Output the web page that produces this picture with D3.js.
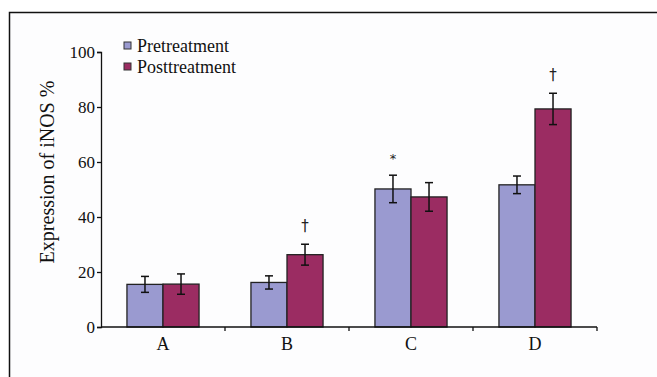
<!DOCTYPE html>
<html>
<head>
<meta charset="utf-8">
<script src="https://cdn.jsdelivr.net/npm/d3@7"></script>
<style>
	body { margin: 0; background: #fff; }
</style>
</head>
<body>
<div id="chart"></div>
<script>
	// Данные
	const groups = ["A", "B", "C", "D"]
	const series = ["Pretreatment", "Posttreatment"]
	const preValues = [15.5, 16.2, 50.2, 51.7]
	const postValues = [15.6, 26.3, 47.3, 79.3]
	const preErrors = [2.9, 2.4, 5, 3.2]
	const postErrors = [3.7, 3.8, 5.2, 5.7]
	const preMarks = ["", "", "*", ""]
	const postMarks = ["", "†", "", "†"]
	const yTicks = [0, 20, 40, 60, 80, 100]

	const colors = ["#9a9ad0", "#9b2c62"]
	const FONT = "'Liberation Serif', 'Times New Roman', serif"

	const W = 657, H = 377

	const svg = d3.select("#chart").append("svg")
		.attr("width", W)
		.attr("height", H)
		.style("font-family", FONT)

	// рамка
	svg.append("rect")
		.attr("x", 9.5).attr("y", 12.5)
		.attr("width", 700).attr("height", 400)
		.attr("fill", "#fdfdfe")
		.attr("stroke", "#111").attr("stroke-width", 1.5)

	const x = d3.scaleBand()
		.domain(groups)
		.range([101, 597])

	const xInner = d3.scaleBand()
		.domain(series)
		.range([0, x.bandwidth()])
		.paddingInner(0)
		.paddingOuter(0.72)

	const y = d3.scaleLinear()
		.domain([0, 100])
		.range([327, 52])

	const rows = groups.flatMap((g, i) => [
		{ g, s: series[0], v: preValues[i], e: preErrors[i], m: preMarks[i], c: colors[0] },
		{ g, s: series[1], v: postValues[i], e: postErrors[i], m: postMarks[i], c: colors[1] }
	])

	// столбцы
	svg.selectAll(".bar")
		.data(rows)
		.enter().append("rect")
		.attr("class", "bar")
		.attr("x", d => x(d.g) + xInner(d.s))
		.attr("y", d => y(d.v))
		.attr("width", xInner.bandwidth())
		.attr("height", d => y(0) - y(d.v))
		.attr("fill", d => d.c)
		.attr("stroke", "#222")
		.attr("stroke-width", 1.3)

	// планки погрешностей
	const err = svg.selectAll(".err")
		.data(rows)
		.enter().append("g")
		.attr("class", "err")
		.attr("transform", d => `translate(${x(d.g) + xInner(d.s) + xInner.bandwidth() / 2},0)`)
		.attr("stroke", "#111")
		.attr("stroke-width", 1.5)

	err.append("line")
		.attr("y1", d => y(d.v + d.e)).attr("y2", d => y(d.v - d.e))
	err.append("line")
		.attr("x1", -4).attr("x2", 4)
		.attr("y1", d => y(d.v + d.e)).attr("y2", d => y(d.v + d.e))
	err.append("line")
		.attr("x1", -4).attr("x2", 4)
		.attr("y1", d => y(d.v - d.e)).attr("y2", d => y(d.v - d.e))

	// значки значимости
	svg.selectAll(".mark")
		.data(rows.filter(d => d.m))
		.enter().append("text")
		.attr("class", "mark")
		.attr("x", d => x(d.g) + xInner(d.s) + xInner.bandwidth() / 2)
		.attr("y", d => y(d.v + d.e) - (d.m === "*" ? 12 : 13))
		.attr("text-anchor", "middle")
		.style("font-size", d => d.m === "*" ? "13px" : "15px")
		.style("font-family", "'DejaVu Sans', sans-serif")
		.style("fill", "#222")
		.text(d => d.m)

	// ось Y
	const yAxis = svg.append("g")
		.attr("transform", `translate(101,0)`)
		.call(d3.axisLeft(y).tickValues(yTicks).tickSize(4).tickPadding(2))
	yAxis.attr("font-family", null).attr("font-size", null)
	yAxis.selectAll("text")
		.style("font-family", FONT)
		.style("font-size", "17px")
		.style("fill", "#111")
	yAxis.selectAll("path, line").attr("stroke", "#111").attr("stroke-width", 1.3)

	// ось X
	const xAxis = svg.append("g")
		.attr("transform", `translate(0,${y(0)})`)
	xAxis.append("line")
		.attr("x1", 101).attr("x2", 597)
		.attr("stroke", "#111").attr("stroke-width", 1.3)
	xAxis.selectAll(".tick")
		.data(groups)
		.enter().append("line")
		.attr("x1", d => x(d) + x.bandwidth()).attr("x2", d => x(d) + x.bandwidth())
		.attr("y1", 0).attr("y2", 4)
		.attr("stroke", "#111").attr("stroke-width", 1.3)
	xAxis.selectAll(".lbl")
		.data(groups)
		.enter().append("text")
		.attr("x", d => x(d) + x.bandwidth() / 2)
		.attr("y", 23)
		.attr("text-anchor", "middle")
		.style("font-size", "18px")
		.style("fill", "#111")
		.text(d => d)

	// подпись оси Y
	svg.append("text")
		.attr("transform", `translate(54,172) rotate(-90)`)
		.attr("text-anchor", "middle")
		.style("font-size", "20px")
		.style("fill", "#111")
		.text("Expression of iNOS %")

	// легенда
	const legend = svg.selectAll(".legend")
		.data(series)
		.enter().append("g")
		.attr("class", "legend")
		.attr("transform", (d, i) => `translate(124,${47 + i * 21})`)
	legend.append("rect")
		.attr("x", 0).attr("y", -5)
		.attr("width", 7).attr("height", 7)
		.attr("fill", (d, i) => colors[i])
		.attr("stroke", "#333").attr("stroke-width", 1)
	legend.append("text")
		.attr("x", 13).attr("y", 5)
		.style("font-size", "18px")
		.style("fill", "#111")
		.text(d => d)
</script>
</body>
</html>
